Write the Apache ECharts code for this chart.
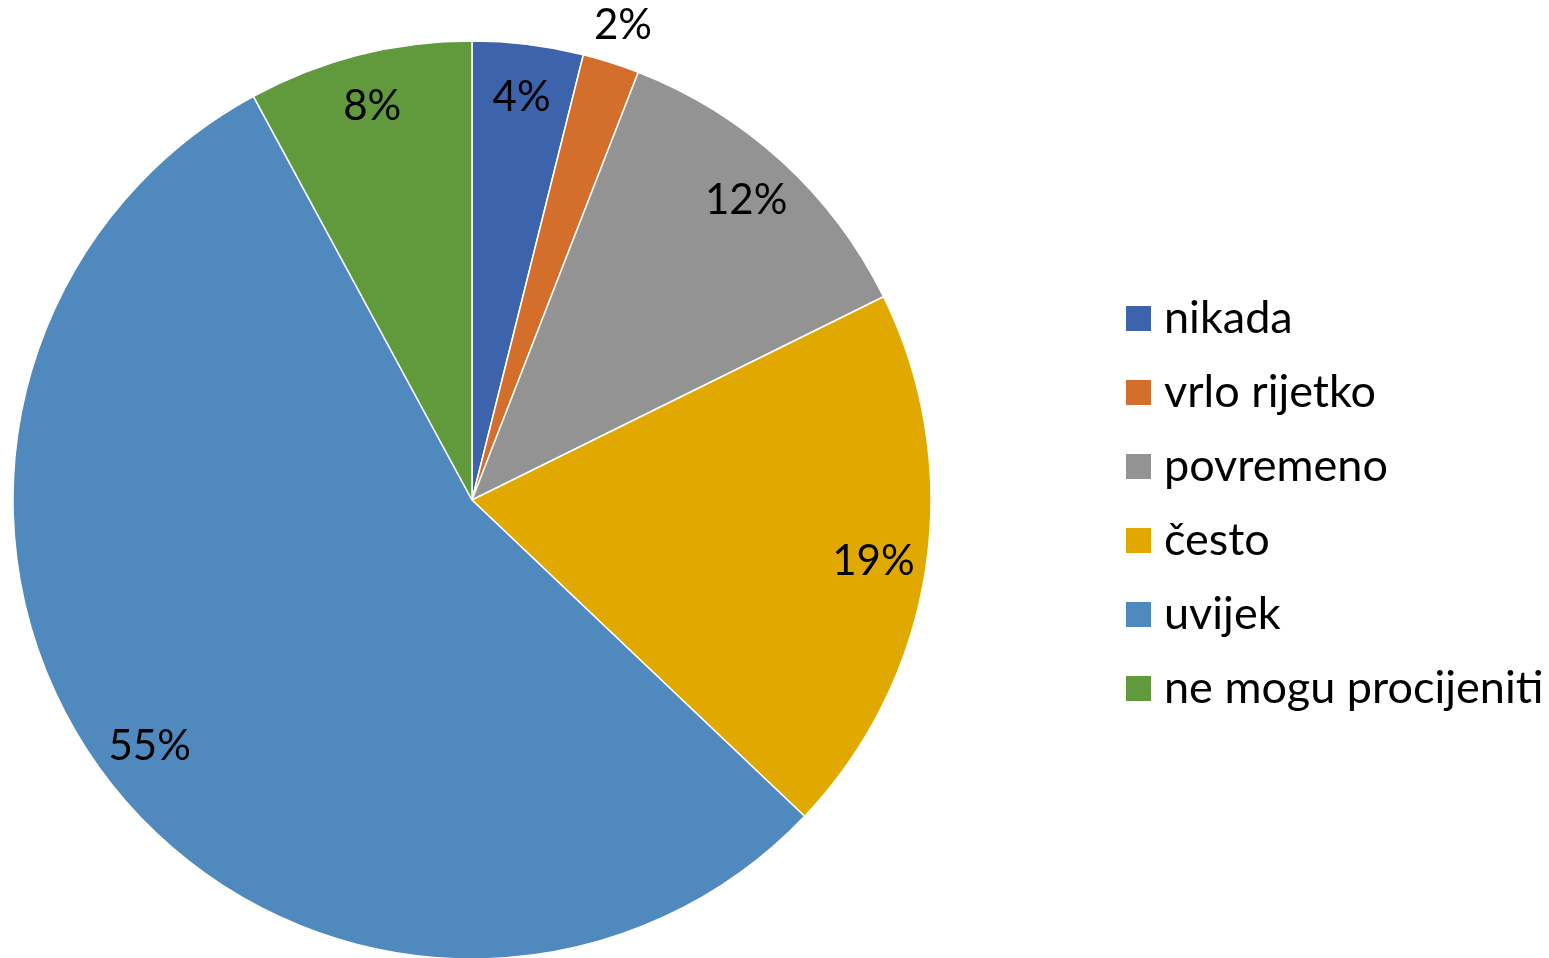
<!DOCTYPE html>
<html>
<head>
<meta charset="utf-8">
<script src="https://cdn.jsdelivr.net/npm/echarts@6/dist/echarts.min.js"></script>
<style>
  html, body { margin: 0; padding: 0; background: #fff; }
  #chart { width: 1549px; height: 958px; }
</style>
</head>
<body>
<div id="chart"></div>
<script>
// values (percent)
const categories = ["nikada", "vrlo rijetko", "povremeno", "često", "uvijek", "ne mogu procijeniti"];
const shares = [3.9, 2.0, 11.8, 19.4, 55.0, 7.9];
const colors = ["#3c63ac", "#d46e2b", "#939393", "#e1a900", "#4f89bd", "#619a3d"];
// the small slice gets its label outside the pie
const outsideLabel = ["vrlo rijetko"];

const fontFamily = "Lato, 'Noto Sans', sans-serif";
const center = [472, 500];

let chart = echarts.init(document.getElementById("chart"));

let pieData = categories.map((name, i) => ({ name: name, value: shares[i] }));
let fmt = p => Math.round(p.value) + "%";

let option = {
  color: colors,
  animation: false,
  legend: {
    orient: "vertical",
    left: 1124,
    top: 296,
    padding: 0,
    itemWidth: 27,
    itemHeight: 27,
    itemGap: 29,
    icon: "rect",
    data: categories,
    textStyle: {
      fontFamily: fontFamily,
      fontSize: 45,
      lineHeight: 42,
      color: "#000",
      padding: [0, 0, 0, 7]
    }
  },
  series: [
    {
      name: "fill",
      type: "pie",
      center: center,
      radius: [0, 459],
      startAngle: 90,
      clockwise: true,
      avoidLabelOverlap: false,
      itemStyle: {
        borderColor: "#fff",
        borderWidth: 1.5
      },
      label: { show: false },
      labelLine: { show: false },
      emphasis: { disabled: true },
      data: pieData
    },
    {
      // transparent ring, only used to place inner labels
      name: "labels",
      type: "pie",
      center: center,
      radius: [347, 459],
      startAngle: 90,
      silent: true,
      avoidLabelOverlap: false,
      itemStyle: { color: "transparent" },
      label: {
        position: "inside",
        formatter: fmt,
        fontFamily: fontFamily,
        fontSize: 42,
        color: "#000"
      },
      labelLine: { show: false },
      emphasis: { disabled: true },
      data: pieData.map(d => ({
        name: d.name,
        value: d.value,
        label: { show: outsideLabel.indexOf(d.name) < 0 }
      }))
    },
    {
      name: "outer labels",
      type: "pie",
      center: center,
      radius: [459, 531],
      startAngle: 90,
      silent: true,
      avoidLabelOverlap: false,
      itemStyle: { color: "transparent" },
      label: {
        position: "inside",
        formatter: fmt,
        fontFamily: fontFamily,
        fontSize: 42,
        color: "#000"
      },
      labelLine: { show: false },
      emphasis: { disabled: true },
      data: pieData.map(d => ({
        name: d.name,
        value: d.value,
        label: { show: outsideLabel.indexOf(d.name) >= 0 }
      }))
    }
  ]
};

chart.setOption(option);
</script>
</body>
</html>
